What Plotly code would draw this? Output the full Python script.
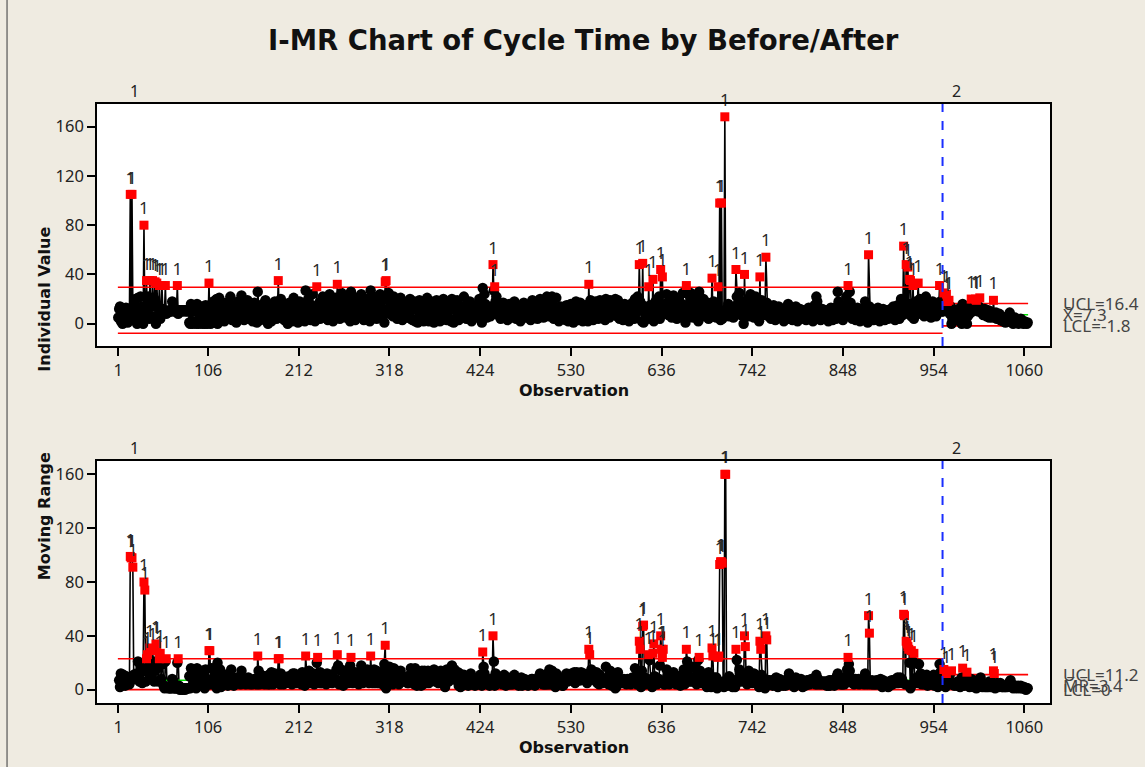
import plotly.graph_objects as go

# ---------------- data: cycle time ----------------
# Stage 1 ("Before") observations 1-964
ct_001_100 = [5, 12, 14, 2, 8, 0, 11, 6, 3, 13, 9, 1, 10, 6, 105, 7, 105, 14, 3, 12,
              20, 8, 0, 21, 11, 5, 22, 9, 14, 0, 80, 6, 12, 35, 9, 22, 4, 35, 16, 6,
              35, 14, 20, 34, 0, 33, 14, 8, 31, 4, 12, 31, 12, 9, 10, 31, 8, 10, 9, 11,
              10, 11, 10, 18, 11, 10, 11, 10, 11, 31, 8, 11, 11, 10, 11, 11, 10, 11, 11, 10,
              11, 10, 11, 1, 0, 16, 2, 0, 15, 10, 1, 0, 16, 12, 0, 3, 9, 14, 0, 7]
ct_101_200 = [1, 0, 15, 8, 0, 4, 33, 4, 0, 16, 11, 18, 2, 8, 19, 20, 0, 12, 21, 6,
              4, 10, 15, 9, 2, 13, 17, 8, 5, 11, 16, 22, 7, 3, 12, 9, 14, 6, 1, 10,
              18, 12, 5, 9, 23, 15, 8, 3, 11, 7, 14, 19, 10, 4, 8, 13, 6, 2, 9, 17,
              11, 5, 1, 26, 12, 8, 3, 14, 9, 16, 6, 10, 19, 13, 4, 0, 11, 7, 15, 2,
              9, 13, 6, 18, 10, 4, 12, 35, 12, 8, 20, 14, 5, 9, 3, 11, 16, 7, 0, 10]
ct_201_300 = [17, 12, 6, 2, 14, 21, 9, 4, 13, 8, 1, 11, 18, 7, 3, 16, 10, 5, 2, 27,
              14, 9, 20, 6, 11, 3, 15, 24, 12, 8, 2, 10, 30, 6, 12, 17, 4, 9, 14, 22,
              11, 5, 16, 20, 8, 3, 13, 24, 18, 7, 12, 2, 9, 15, 21, 6, 32, 14, 10, 4,
              19, 25, 11, 8, 22, 13, 5, 17, 9, 14, 20, 2, 26, 12, 7, 16, 10, 3, 15, 21,
              8, 12, 18, 6, 24, 14, 9, 3, 11, 17, 5, 20, 13, 8, 2, 27, 15, 10, 22, 7]
ct_301_400 = [12, 18, 4, 9, 16, 11, 24, 14, 6, 10, 20, 1, 34, 35, 20, 12, 25, 8, 14, 19,
              10, 6, 22, 15, 9, 18, 4, 12, 16, 7, 21, 13, 3, 11, 17, 8, 14, 5, 10, 15,
              9, 20, 4, 16, 3, 14, 18, 2, 15, 12, 1, 13, 19, 6, 3, 17, 13, 2, 16, 4,
              9, 21, 7, 2, 15, 5, 18, 8, 16, 1, 13, 7, 19, 9, 4, 15, 2, 16, 3, 8,
              20, 7, 9, 18, 3, 11, 17, 4, 14, 2, 20, 12, 1, 16, 4, 11, 19, 6, 3, 15]
ct_401_500 = [13, 8, 5, 11, 22, 14, 9, 4, 10, 7, 12, 18, 6, 2, 9, 13, 8, 5, 11, 15,
              7, 12, 20, 9, 4, 1, 29, 12, 24, 16, 10, 5, 13, 8, 11, 6, 14, 8, 48, 27,
              30, 18, 22, 12, 7, 15, 10, 4, 13, 9, 17, 6, 11, 14, 8, 3, 12, 16, 9, 5,
              10, 14, 7, 18, 11, 4, 9, 15, 12, 6, 2, 11, 8, 13, 17, 9, 5, 12, 7, 10,
              14, 8, 3, 11, 19, 12, 6, 9, 15, 10, 4, 13, 8, 20, 14, 7, 11, 5, 9, 13]
ct_501_600 = [18, 22, 10, 6, 21, 12, 8, 22, 15, 4, 11, 9, 21, 13, 7, 2, 10, 14, 6, 9,
              12, 5, 14, 3, 15, 9, 2, 13, 6, 16, 4, 12, 1, 14, 9, 18, 5, 13, 3, 10,
              17, 4, 12, 2, 14, 6, 15, 5, 10, 2, 32, 6, 19, 4, 13, 3, 15, 8, 18, 5,
              10, 4, 8, 19, 13, 6, 11, 17, 9, 3, 20, 14, 8, 12, 5, 19, 10, 7, 18, 11,
              19, 20, 18, 6, 19, 12, 4, 10, 15, 8, 3, 11, 16, 9, 5, 13, 7, 2, 10, 14]
ct_601_700 = [8, 17, 11, 4, 20, 13, 9, 22, 12, 48, 18, 16, 2, 49, 1, 10, 14, 6, 12, 4,
              30, 8, 15, 11, 9, 36, 2, 12, 18, 10, 6, 14, 22, 4, 44, 14, 38, 8, 12, 16,
              9, 24, 13, 7, 11, 20, 15, 5, 10, 23, 17, 8, 12, 4, 14, 19, 9, 6, 11, 16,
              25, 10, 6, 1, 31, 10, 24, 14, 8, 25, 18, 12, 5, 22, 16, 9, 13, 24, 2, 26,
              12, 7, 15, 10, 20, 14, 6, 11, 9, 17, 4, 13, 8, 6, 37, 12, 18, 9, 14, 5]
ct_701_800 = [6, 30, 5, 98, 3, 98, 4, 10, 8, 168, 8, 12, 9, 16, 6, 11, 14, 8, 10, 5,
              12, 14, 44, 22, 16, 10, 25, 13, 7, 18, 9, 0, 40, 8, 15, 11, 20, 6, 12, 24,
              14, 9, 17, 5, 11, 22, 13, 8, 4, 2, 38, 8, 19, 12, 7, 15, 14, 54, 17, 10,
              6, 13, 9, 4, 11, 8, 15, 10, 3, 12, 7, 9, 14, 6, 10, 5, 11, 8, 2, 9,
              12, 6, 10, 16, 4, 8, 13, 7, 3, 9, 11, 5, 14, 8, 2, 10, 6, 12, 4, 9]
ct_801_900 = [7, 11, 5, 8, 3, 10, 6, 13, 9, 4, 12, 7, 2, 8, 15, 11, 22, 18, 10, 5,
              9, 3, 7, 12, 6, 10, 4, 8, 11, 5, 2, 9, 6, 13, 8, 3, 10, 7, 12, 4,
              14, 26, 18, 9, 5, 11, 7, 3, 12, 8, 15, 22, 7, 31, 12, 26, 17, 9, 4, 10,
              6, 11, 3, 8, 13, 5, 9, 2, 7, 12, 4, 10, 6, 18, 11, 5, 1, 56, 14, 8,
              12, 5, 9, 3, 7, 11, 4, 8, 13, 6, 2, 10, 7, 5, 12, 9, 3, 8, 11, 6]
ct_901_964 = [4, 10, 7, 12, 5, 9, 14, 8, 3, 11, 6, 15, 10, 4, 13, 20, 12, 7, 63, 8,
              12, 48, 14, 46, 16, 36, 35, 6, 10, 31, 4, 12, 18, 9, 14, 33, 14, 20, 8, 12,
              17, 10, 6, 14, 22, 11, 8, 16, 9, 13, 5, 12, 18, 7, 10, 15, 6, 11, 9, 12,
              31, 18, 14, 10]
# Stage 2 ("After") observations 965-1064
ct_965_1064 = [10, 25, 14, 12, 24, 18, 13, 19, 8, 14, 0, 4, 8, 5, 10, 6, 3, 9, 12, 7,
               5, 9, 0, 16, 9, 12, 8, 13, 0, 6, 10, 8, 12, 20, 13, 10, 12, 14, 20, 19,
               12, 10, 14, 21, 12, 9, 11, 7, 10, 12, 8, 6, 9, 11, 5, 8, 10, 7, 5, 19,
               7, 6, 9, 4, 7, 5, 8, 3, 6, 4, 2, 5, 3, 1, 4, 2, 6, 3, 9, 2,
               4, 1, 0, 3, 5, 2, 1, 3, 0, 2, 1, 4, 2, 1, 0, 2, 1, 1, 0, 1]

stage_names = ["1", "2"]
# control limits per stage
i_ucl = [29.6, 16.4]
i_center = [10.9, 7.3]
i_lcl = [-7.8, -1.8]
mr_ucl = [22.97, 11.2]
mr_center = [7.0, 3.4]
mr_lcl = [0.0, 0.0]
x_ticks = [1, 106, 212, 318, 424, 530, 636, 742, 848, 954, 1060]
y_ticks = [0, 40, 80, 120, 160]

stage1 = (ct_001_100 + ct_101_200 + ct_201_300 + ct_301_400 + ct_401_500 +
          ct_501_600 + ct_601_700 + ct_701_800 + ct_801_900 + ct_901_964)
stage2 = ct_965_1064
values = stage1 + stage2
n1 = len(stage1)
N = len(values)
obs = list(range(1, N + 1))
stage = [0 if i < n1 else 1 for i in range(N)]
stage_bounds = [(1, n1), (n1 + 1, N)]

# moving ranges within each stage
mr = []
for i in range(N):
    if i == 0 or stage[i] != stage[i - 1]:
        mr.append(None)
    else:
        mr.append(abs(values[i] - values[i - 1]))

# ---------------- styling constants ----------------
BG = "#EFEBE1"
TICK_FONT = dict(family="Noto Sans", size=16.5, color="#222222")
LBL_FONT = dict(family="Noto Sans", size=17, color="#2a2a2a")

fig = go.Figure()


def add_chart(yvals, ucl, cen, lcl, xa, ya):
    fig.add_trace(go.Scatter(x=obs, y=yvals, mode="lines", xaxis=xa, yaxis=ya,
                             line=dict(color="black", width=1.6), connectgaps=False,
                             hoverinfo="skip", showlegend=False))
    ok_x, ok_y, bad_x, bad_y = [], [], [], []
    for i, v in enumerate(yvals):
        if v is None:
            continue
        s = stage[i]
        if v > ucl[s] or v < lcl[s]:
            bad_x.append(obs[i]); bad_y.append(v)
        else:
            ok_x.append(obs[i]); ok_y.append(v)
    for s, (a, b) in enumerate(stage_bounds):
        for val, col in ((ucl[s], "#FF0000"), (lcl[s], "#FF0000"), (cen[s], "#00E000")):
            fig.add_trace(go.Scatter(x=[a - 0.5, b + 0.5], y=[val, val], mode="lines",
                                     xaxis=xa, yaxis=ya, line=dict(color=col, width=1.6),
                                     hoverinfo="skip", showlegend=False))
    fig.add_trace(go.Scatter(x=ok_x, y=ok_y, mode="markers", xaxis=xa, yaxis=ya,
                             marker=dict(color="black", size=10.5, symbol="circle"),
                             showlegend=False))
    fig.add_trace(go.Scatter(x=bad_x, y=bad_y, mode="markers+text", xaxis=xa, yaxis=ya,
                             marker=dict(color="#FF0000", size=9, symbol="square"),
                             text=["1"] * len(bad_x), textposition="top center",
                             textfont=LBL_FONT, cliponaxis=False, showlegend=False))


add_chart(values, i_ucl, i_center, i_lcl, "x", "y")
add_chart(mr, mr_ucl, mr_center, mr_lcl, "x2", "y2")

xrange = [-23.9, 1090.1]
axis_common = dict(showline=True, mirror=True, linecolor="black", linewidth=1.5,
                   ticks="outside", ticklen=8, tickwidth=1.5, tickcolor="black",
                   showgrid=False, zeroline=False, tickfont=TICK_FONT)

fig.update_layout(
    width=1145, height=767,
    paper_bgcolor=BG, plot_bgcolor="white",
    margin=dict(l=97, r=95, t=104, b=64),
    showlegend=False,
    xaxis=dict(range=xrange, tickvals=x_ticks, anchor="y", **axis_common),
    yaxis=dict(range=[-18.1, 178.4], tickvals=y_ticks, domain=[0.596, 1.0], anchor="x",
               **axis_common),
    xaxis2=dict(range=xrange, tickvals=x_ticks, anchor="y2", **axis_common),
    yaxis2=dict(range=[-9.9, 169.9], tickvals=y_ticks, domain=[0.0, 0.404], anchor="x2",
                **axis_common),
)

# stage divider
for xr, yr in (("x", "y domain"), ("x2", "y2 domain")):
    fig.add_shape(type="line", xref=xr, yref=yr, x0=n1 + 0.5, x1=n1 + 0.5, y0=0, y1=1,
                  line=dict(color="#1A2EFF", width=2, dash="dash"))

# left frame line
fig.add_shape(type="line", xref="paper", yref="paper", x0=-0.0944, x1=-0.0944,
              y0=-0.11, y1=1.18, line=dict(color="#555555", width=1.2))

# stage labels
stage_label_x = [19.4, 981]
for xr, yr in (("x", "y domain"), ("x2", "y2 domain")):
    for s in range(2):
        fig.add_annotation(x=stage_label_x[s], y=1, xref=xr, yref=yr, text=stage_names[s],
                           showarrow=False, yanchor="bottom", yshift=0,
                           font=dict(family="Noto Sans", size=16, color="#222222"))

# limit labels for last stage
GRAY = dict(family="Noto Sans", size=17, color="#444444")
for txt, val in ((f"UCL={i_ucl[1]}", i_ucl[1]), (f"X\u0304={i_center[1]}", i_center[1]),
                 (f"LCL={i_lcl[1]}", i_lcl[1])):
    fig.add_annotation(x=1.012, y=val, xref="paper", yref="y", text=txt, showarrow=False,
                       xanchor="left", yanchor="middle", font=GRAY)
for txt, val in ((f"UCL={mr_ucl[1]}", mr_ucl[1]), (f"M\u0305R\u0305={mr_center[1]}", mr_center[1]),
                 ("LCL=0", mr_lcl[1])):
    fig.add_annotation(x=1.012, y=val, xref="paper", yref="y2", text=txt, showarrow=False,
                       xanchor="left", yanchor="middle", font=GRAY)

# titles
fig.add_annotation(x=0.51, y=1.1068, xref="paper", yref="paper",
                   text="<b>I-MR Chart of Cycle Time by Before/After</b>", showarrow=False,
                   yanchor="middle", font=dict(family="DejaVu Sans", size=27.5, color="#111111"))
TITLE_FONT = dict(family="DejaVu Sans", size=16, color="#111111")
fig.add_annotation(x=-0.0675, y=0.798, xref="paper", yref="paper", text="<b>Individual Value</b>",
                   textangle=-90, showarrow=False, font=TITLE_FONT)
fig.add_annotation(x=-0.0675, y=0.202, xref="paper", yref="paper", text="<b>Moving Range</b>",
                   textangle=-90, showarrow=False, font=TITLE_FONT)
fig.add_annotation(x=0.5, y=(703 - 390) / 599, xref="paper", yref="paper", text="<b>Observation</b>",
                   showarrow=False, yanchor="middle", font=TITLE_FONT)
fig.add_annotation(x=0.5, y=(703 - 747) / 599, xref="paper", yref="paper", text="<b>Observation</b>",
                   showarrow=False, yanchor="middle", font=TITLE_FONT)

fig.write_html("out.html", config={"displayModeBar": False},
               post_script="document.body.style.margin='0';")
